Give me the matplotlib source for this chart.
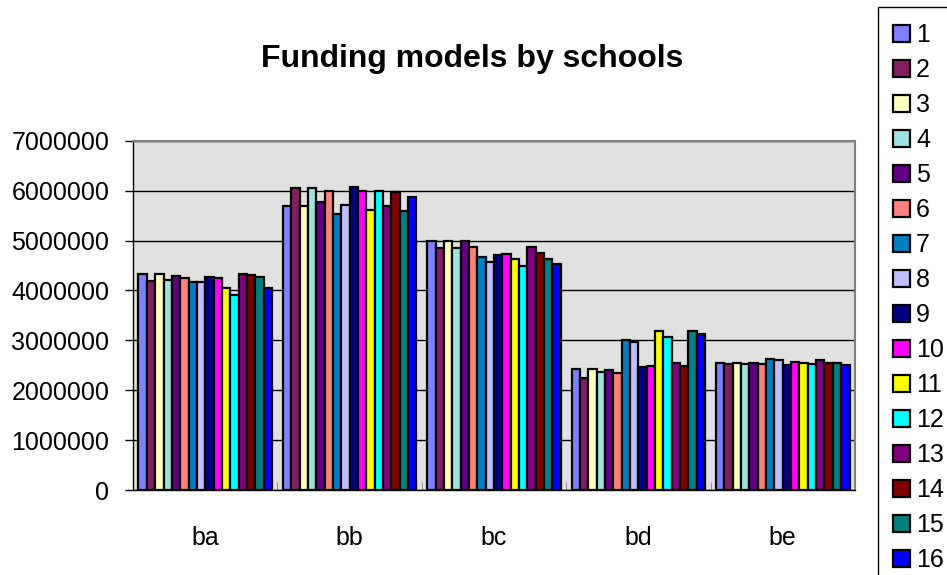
# -*- coding: utf-8 -*-
"""
Funding models by schools - grouped bar chart, 16 models per school
"""
import numpy as np
import matplotlib
matplotlib.use("Agg")
import matplotlib.pyplot as plt
from matplotlib.patches import Rectangle
from matplotlib.ticker import FuncFormatter

plt.rcParams['font.family'] = ['Liberation Sans', 'DejaVu Sans']

schools = ["ba", "bb", "bc", "bd", "be"]
models = [str(i) for i in range(1, 17)]

# one list per school, values for models 1..16
ba = [4320000, 4190000, 4320000, 4200000, 4290000, 4250000, 4170000, 4170000,
      4270000, 4250000, 4050000, 3910000, 4330000, 4300000, 4270000, 4040000]
bb = [5700000, 6060000, 5690000, 6060000, 5770000, 6000000, 5540000, 5720000,
      6070000, 5990000, 5610000, 5990000, 5690000, 5970000, 5590000, 5870000]
bc = [5000000, 4850000, 5000000, 4850000, 4990000, 4870000, 4660000, 4570000,
      4710000, 4730000, 4630000, 4490000, 4870000, 4740000, 4630000, 4520000]
bd = [2420000, 2250000, 2420000, 2360000, 2410000, 2350000, 3010000, 2960000,
      2470000, 2480000, 3190000, 3070000, 2540000, 2480000, 3190000, 3120000]
be = [2550000, 2530000, 2550000, 2530000, 2550000, 2530000, 2620000, 2610000,
      2510000, 2570000, 2540000, 2520000, 2600000, 2550000, 2540000, 2500000]

yticks = [0, 1000000, 2000000, 3000000, 4000000, 5000000, 6000000, 7000000]

colors = ['#8080FF', '#802060', '#FFFFC0', '#A0E0E0', '#600080', '#FF8080',
          '#0080C0', '#C0C0FF', '#000080', '#FF00FF', '#FFFF00', '#00FFFF',
          '#800080', '#800000', '#008080', '#0000FF']

if __name__ == "__main__":
    values = np.array([ba, bb, bc, bd, be])  # shape (school, model)
    x = np.arange(len(schools))

    fig = plt.figure(figsize=(9.47, 5.75), dpi=100)
    ax = fig.add_axes([133 / 947, 1 - 490 / 575, (855 - 133) / 947, (490 - 140.7) / 575])
    ax.set_facecolor('#E0E0E0')

    group = 0.924
    w = group / len(models)
    handles = []
    for j, m in enumerate(models):
        pos = x - group / 2 + w * (j + 0.5)
        b = ax.bar(pos, values[:, j], width=w, color=colors[j],
                   edgecolor='black', linewidth=1.6, label=m, zorder=3)
        handles.append(b)

    ax.set_xlim(-0.5, len(schools) - 0.5)
    ax.set_ylim(0, 7000000)

    # gridlines
    ax.set_yticks(yticks)
    ax.yaxis.set_major_formatter(FuncFormatter(lambda v, p: "%d" % v))
    ax.grid(True, axis='y', color='black', linewidth=1, zorder=1)
    ax.set_axisbelow(True)

    # categories, tick marks on the boundaries
    ax.set_xticks(x)
    ax.set_xticklabels(schools)
    ax.set_xticks(np.arange(len(schools) + 1) - 0.5, minor=True)
    ax.tick_params(axis='x', which='major', length=0, pad=26, labelsize=18)
    ax.tick_params(axis='x', which='minor', direction='in', length=6, color='#808080')
    ax.tick_params(axis='y', direction='out', length=6, width=1, pad=11, labelsize=18)

    for s in ['top', 'right']:
        ax.spines[s].set_color('#808080')
        ax.spines[s].set_linewidth(1.5)
    for s in ['left', 'bottom']:
        ax.spines[s].set_color('black')
        ax.spines[s].set_linewidth(1)

    fig.text(0.4985, 1 - 66.7 / 575, "Funding models by schools", ha='center',
             va='baseline', fontsize=23, fontweight='bold')

    # legend box runs off the right and bottom of the chart
    fig.patches.append(Rectangle((878 / 947, -0.05), 0.2, 1.05 - 7 / 575,
                                 transform=fig.transFigure, fill=False,
                                 edgecolor='black', linewidth=1))
    leg = fig.legend(handles=handles, loc='upper left',
                     bbox_to_anchor=(893 / 947, 1 - 23 / 575), fontsize=18,
                     frameon=False, handlelength=0.68, handleheight=0.68,
                     handletextpad=0.24, labelspacing=0.44,
                     borderpad=0, borderaxespad=0)

    fig.savefig("out.png", dpi=100)
